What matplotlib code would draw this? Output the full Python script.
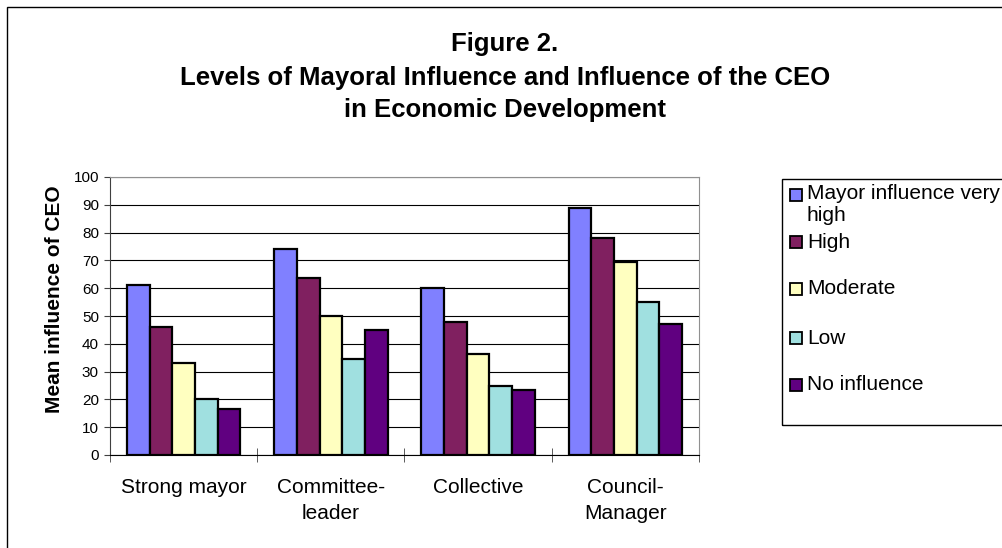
import matplotlib.pyplot as plt
import numpy as np
from matplotlib.patches import Rectangle

plt.rcParams['font.family'] = ['Liberation Sans', 'DejaVu Sans']

# Data
categories = ["Strong mayor", "Committee-\nleader", "Collective", "Council-\nManager"]
series = ["Mayor influence very\nhigh", "High", "Moderate", "Low", "No influence"]
very_high = [61, 74, 60, 89]
high = [46, 63.5, 48, 78]
moderate = [33, 50, 36.5, 69.5]
low = [20, 34.5, 25, 55]
no_influence = [16.5, 45, 23.5, 47]
colors = ["#8080FF", "#802060", "#FFFFC0", "#A0E0E0", "#600080"]

W, H = 1003, 548

# pixel -> figure fraction helpers
def fx(x):
    return x / W

def fy(y):
    return 1 - y / H

fig = plt.figure(figsize=(W / 100, H / 100), dpi=100)
ax = fig.add_axes([fx(110), fy(455), fx(699) - fx(110), fy(177) - fy(455)])

values = [very_high, high, moderate, low, no_influence]
x = np.arange(len(categories))
w = 0.154
for i, (vals, c) in enumerate(zip(values, colors)):
    ax.bar(x + (i - 2) * w, vals, width=w, color=c, edgecolor="black",
           linewidth=1.6, zorder=3)

ax.set_xlim(-0.5, 3.5)
ax.set_ylim(0, 100)
ax.set_yticks(range(0, 101, 10))
ax.yaxis.grid(True, color="black", linewidth=0.8, zorder=0)
ax.tick_params(axis="y", direction="out", length=4, labelsize=11, pad=4,
               color="#404040")
ax.set_xticks(x)
ax.set_xticklabels(categories, fontsize=15, linespacing=1.45)
ax.set_xticks(np.arange(-0.5, 4, 1), minor=True)
ax.tick_params(axis="x", which="major", length=0, pad=16.5)
ax.tick_params(axis="x", which="minor", direction="inout", length=10,
               color="#404040")
for s in ["top", "right"]:
    ax.spines[s].set_color("#909090")
ax.spines["left"].set_color("#404040")
ax.spines["bottom"].set_color("black")
ax.set_ylabel("Mean influence of CEO", fontsize=15, fontweight="bold")
ax.yaxis.set_label_coords(-0.078, 0.56)

# Title
for txt, yy in zip(["Figure 2.",
                    "Levels of Mayoral Influence and Influence of the CEO",
                    "in Economic Development"], [44, 78, 110]):
    fig.text(fx(505), fy(yy), txt, ha="center", va="center", fontsize=18.5,
             fontweight="bold")

# Outer chart border (runs past the right and bottom edges)
fig.patches.append(Rectangle((fx(7), fy(560)), 1.2, fy(7) - fy(560),
                             transform=fig.transFigure, fill=False,
                             edgecolor="black", linewidth=1))

# Legend box, drawn like the original
fig.patches.append(Rectangle((fx(782), fy(425)), 1.0, fy(179) - fy(425),
                             transform=fig.transFigure, fill=False,
                             edgecolor="black", linewidth=1))
leg_y = [195, 242, 289, 338, 385]
for lab, c, yy in zip(series, colors, leg_y):
    fig.patches.append(Rectangle((fx(790), fy(yy + 6)), fx(12), fy(0) - fy(12),
                                 transform=fig.transFigure, facecolor=c,
                                 edgecolor="black", linewidth=1.3))
    if "\n" in lab:
        fig.text(fx(807), fy(yy - 11), lab, ha="left", va="top", fontsize=15,
                 linespacing=1.2)
    else:
        fig.text(fx(807), fy(yy), lab, ha="left", va="center", fontsize=15)

fig.savefig("out.png", dpi=100)
